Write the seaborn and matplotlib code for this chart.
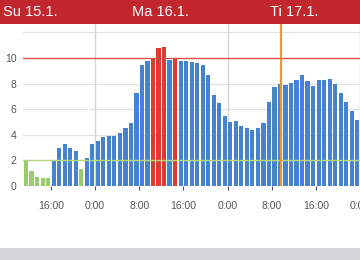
import matplotlib
matplotlib.use("Agg")
import matplotlib.pyplot as plt
import seaborn as sns
import pandas as pd
import numpy as np

# ---- data (hourly values, starting Su 15.1. 11:00) ----
values = [2.0, 1.2, 0.7, 0.6, 0.6, 2.0, 2.95, 3.3, 3.0, 2.75, 1.3, 2.2, 3.3,
          3.5, 3.8, 3.9, 3.9, 4.15, 4.5, 4.9, 7.25, 9.45, 9.75, 9.95, 10.8, 10.85,
          9.85, 9.95, 9.75, 9.75, 9.7, 9.6, 9.45, 8.7, 7.15, 6.5, 5.5,
          5.0, 5.05, 4.65, 4.55, 4.4, 4.5, 4.95, 6.55, 7.7, 8.0, 7.9, 8.05,
          8.3, 8.7, 8.2, 7.85, 8.25, 8.3, 8.35, 7.95, 7.3, 6.55, 5.85, 5.15]
levels = (["low"] * 5 + ["mid"] * 5 + ["low"] + ["mid"] * 12 + ["high"] * 3
          + ["mid"] + ["high"] + ["mid"] * 33)
day_labels = ["Su 15.1.", "Ma 16.1.", "Ti 17.1."]
tick_labels = ["16:00", "0:00", "8:00", "16:00", "0:00", "8:00", "16:00", "0:00"]
tick_hours = [5, 13, 21, 29, 37, 45, 53, 61]      # bar index at tick (hour boundary)
midnights = [13, 37, 61]
upper_limit = 10
lower_limit = 2
now_hour = 46.75                                  # hours since first bar start

palette = {"low": "#9BCB6C", "mid": "#4583D2", "high": "#DD3A30"}

df = pd.DataFrame({"hour": list(range(len(values))), "value": values, "level": levels})

fig = plt.figure(figsize=(3.6, 2.6), dpi=100)
fig.patch.set_facecolor("white")
ax = fig.add_axes([23.3 / 360, 74 / 260, 1 - 23.3 / 360, (186 - 24) / 260])

sns.barplot(data=df, x="hour", y="value", hue="level", palette=palette,
            dodge=False, width=0.76, legend=False, ax=ax, saturation=1,
            order=list(range(len(values))), linewidth=0)

ax.set_xlim(-0.5, len(values) - 0.5 + 0.0)
ax.set_ylim(0, 12.66)
ax.set_xlabel("")
ax.set_ylabel("")
for s in ax.spines.values():
    s.set_visible(False)

# gridlines
for yv in [4, 6, 8, 12]:
    ax.axhline(yv, color="#E2E2E2", lw=0.9, zorder=0)
for m in midnights:
    ax.axvline(m - 0.5, color="#D6D6D6", lw=1.0, zorder=0)
ax.axhline(upper_limit, color="#E0504A", lw=1.0, zorder=3)
ax.axhline(lower_limit, color="#B5D67E", lw=1.0, zorder=3)
ax.axvline(now_hour - 0.5, color="#E8963A", lw=1.6, zorder=4)

ax.set_xticks([h - 0.5 for h in tick_hours])
ax.set_xticklabels(tick_labels)
ax.set_yticks([0, 2, 4, 6, 8, 10])
ax.set_yticklabels(["0", "2", "4", "6", "8", "10"])
ax.tick_params(axis="x", length=3, width=0.8, color="#555555", pad=8,
               labelsize=7.5, labelcolor="#555555")
ax.tick_params(axis="y", length=0, pad=5, labelsize=7.5, labelcolor="#555555")
for lab in ax.get_xticklabels() + ax.get_yticklabels():
    lab.set_fontfamily("Liberation Sans")

# header band
fig.patches.append(plt.Rectangle((0, 236 / 260), 1, 24 / 260, transform=fig.transFigure,
                                 facecolor="#C1272D", edgecolor="none", zorder=0))
fig.text(3 / 360, 248 / 260, day_labels[0], color="white", fontsize=10.5,
         ha="left", va="center", family="Liberation Sans")
fig.text(160 / 360, 248 / 260, day_labels[1], color="white", fontsize=10.5,
         ha="center", va="center", family="Liberation Sans")
fig.text(294 / 360, 248 / 260, day_labels[2], color="white", fontsize=10.5,
         ha="center", va="center", family="Liberation Sans")

# bottom gray band
fig.patches.append(plt.Rectangle((0, 0), 1, 12 / 260, transform=fig.transFigure,
                                 facecolor="#D5D5DA", edgecolor="none", zorder=0))

fig.savefig("out.png", dpi=100)
